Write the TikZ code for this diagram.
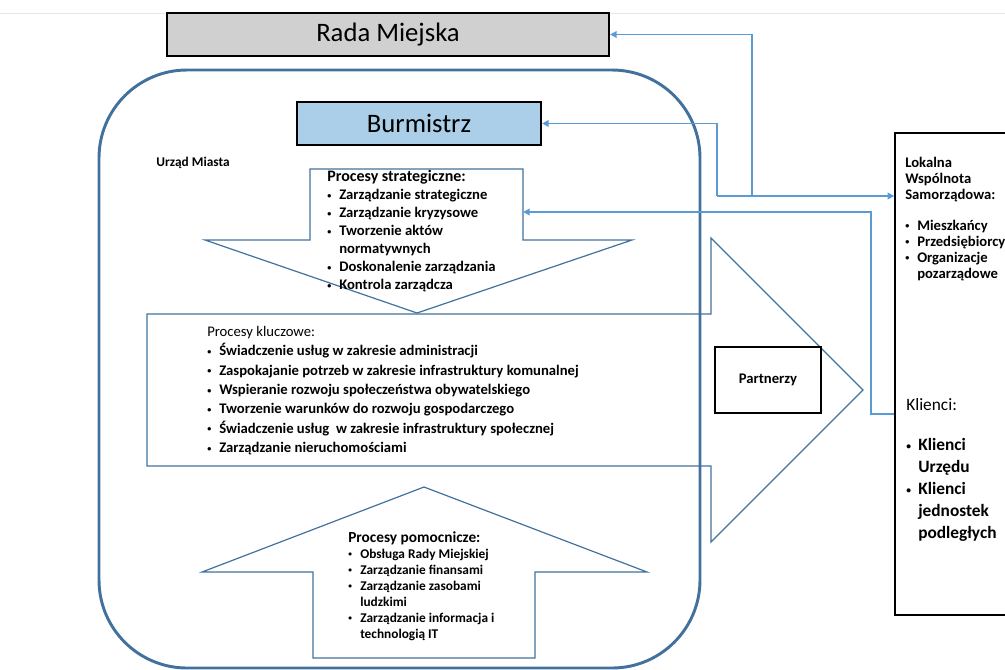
\documentclass[tikz,border=0pt]{standalone}
\usepackage{fontspec}
\setmainfont{Carlito}
\usetikzlibrary{arrows.meta}
\definecolor{ramka}{HTML}{41719C}
\definecolor{laczenie}{HTML}{5B9BD5}
\definecolor{szary}{HTML}{D0D0D0}
\definecolor{niebieski}{HTML}{ABCFE8}
\newcommand{\pkt}{\makebox[9pt][l]{\raisebox{0.18ex}{\scalebox{0.55}{\textbullet}}}}
\newcommand{\wcj}{\hspace*{9pt}}

\begin{document}
\begin{tikzpicture}[
    x=0.75pt, y=-0.75pt,
    blok/.style={draw=ramka, line width=0.9pt},
    pole/.style={draw, line width=1.6pt, inner sep=0pt, font=\fontsize{20}{24}\selectfont},
    lista/.style={anchor=north west, inner sep=0pt, align=left},
    polaczenie/.style={laczenie, line width=1.3pt, -{Triangle[length=5pt,width=5pt]}}
    ]
    \useasboundingbox (0,0) rectangle (1005,669);
    \draw[gray!20, line width=0.6pt] (0,13) -- (1005,13);

    % strzalki procesow
    \draw[blok] (310,169) -- (523,169) -- (523,240) -- (632,240) -- (417,313) -- (205,240) -- (310,240) -- cycle;
    \draw[blok] (147,314) -- (711,314) -- (711,238) -- (863,390) -- (711,542) -- (711,466) -- (147,466) -- cycle;
    \draw[blok] (313,658) -- (313,572) -- (202,572) -- (424,487) -- (647,572) -- (535,572) -- (535,658) -- cycle;
    \draw[ramka, line width=2.2pt, rounded corners=66pt] (99,70) rectangle (700,668);

    \node[pole, fill=szary, minimum width=331.5pt, minimum height=32.25pt] (rada) at (388,34.5) {Rada Miejska};
    \node[pole, fill=niebieski, minimum width=183pt, minimum height=32.25pt] (burmistrz) at (419,123.5) {Burmistrz};
    \node[font=\fontsize{10}{12}\selectfont\bfseries] (urzad) at (193,163) {Urząd Miasta};

    \node[lista, font=\fontsize{11}{13.5}\selectfont\bfseries] (strategiczne) at (327,170) {%
      {\fontsize{12}{13.5}\selectfont Procesy strategiczne:}\\
      \pkt Zarządzanie strategiczne\\
      \pkt Zarządzanie kryzysowe\\
      \pkt Tworzenie aktów\\
      \wcj normatywnych\\
      \pkt Doskonalenie zarządzania\\
      \pkt Kontrola zarządcza};
    \node[lista, font=\fontsize{11}{14.5}\selectfont\bfseries] (kluczowe) at (207,326) {%
      {\mdseries Procesy kluczowe:}\\
      \pkt Świadczenie usług w zakresie administracji\\
      \pkt Zaspokajanie potrzeb w zakresie infrastruktury komunalnej\\
      \pkt Wspieranie rozwoju społeczeństwa obywatelskiego\\
      \pkt Tworzenie warunków do rozwoju gospodarczego\\
      \pkt Świadczenie usług \ w zakresie infrastruktury społecznej\\
      \pkt Zarządzanie nieruchomościami};
    \node[lista, font=\fontsize{10}{12}\selectfont\bfseries] (pomocnicze) at (348,531) {%
      {\fontsize{11.5}{12}\selectfont Procesy pomocnicze:}\\
      \pkt Obsługa Rady Miejskiej\\
      \pkt Zarządzanie finansami\\
      \pkt Zarządzanie zasobami\\
      \wcj ludzkimi\\
      \pkt Zarządzanie informacja i\\
      \wcj technologią IT};

    \node[draw, line width=1.6pt, fill=white, minimum width=79.5pt, minimum height=49.5pt,
      font=\fontsize{11}{13}\selectfont\bfseries] (partnerzy) at (768,380) {Partnerzy};

    \node[draw, line width=1.1pt, minimum width=101.25pt, minimum height=361.5pt] (wspolnota) at (962.5,374) {};
    \node[lista, font=\fontsize{11}{12}\selectfont\bfseries] (lokalna) at (905,157) {%
      Lokalna\\
      Wspólnota\\
      Samorządowa:\\[11pt]
      \pkt Mieszkańcy\\
      \pkt Przedsiębiorcy\\
      \pkt Organizacje\\
      \wcj pozarządowe};
    \node[lista, font=\fontsize{13}{16.5}\selectfont\bfseries] (klienci) at (906,398) {%
      {\mdseries Klienci:}\\[14pt]
      \pkt Klienci\\
      \wcj Urzędu\\
      \pkt Klienci\\
      \wcj jednostek\\
      \wcj podległych};

    % polaczenia
    \coordinate (w1) at (752,196);
    \coordinate (w2) at (717,196);
    \coordinate (w3) at (871,414);
    \coordinate (strat) at (523,212);
    \draw[polaczenie] (w1) |- (rada.east);
    \draw[polaczenie] (w2) |- (burmistrz.east);
    \draw[laczenie, line width=1.3pt] (w2) -- (w1);
    \draw[polaczenie, line width=2pt] (w1) -- (w1 -| wspolnota.west);
    \draw[polaczenie] (w3 -| wspolnota.west) -- (w3) |- (strat);
\end{tikzpicture}
\end{document}
